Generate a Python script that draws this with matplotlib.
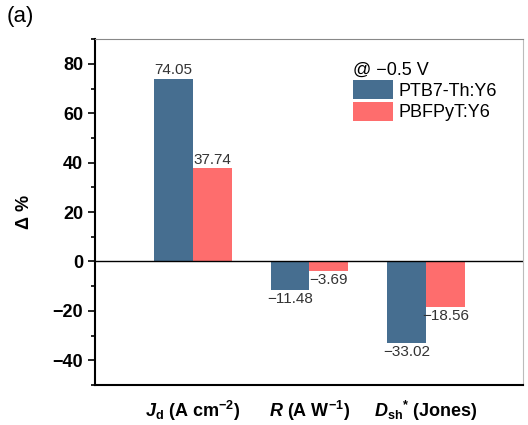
import numpy as np
import matplotlib.pyplot as plt
from matplotlib.ticker import MultipleLocator

# data
categories = [r"$\mathbfit{J}_\mathbf{d}$ (A cm$^{\mathbf{-2}}$)",
              r"$\mathbfit{R}$ (A W$^{\mathbf{-1}}$)",
              r"$\mathbfit{D}_\mathbf{sh}$$^{\mathbf{*}}$ (Jones)"]
ptb7 = [74.05, -11.48, -33.02]
pbfpyt = [37.74, -3.69, -18.56]
series_names = ["PTB7-Th:Y6", "PBFPyT:Y6"]

plt.rcParams['font.family'] = ['Liberation Sans', 'DejaVu Sans']
plt.rcParams['mathtext.fontset'] = 'custom'
plt.rcParams['mathtext.rm'] = 'Liberation Sans'
plt.rcParams['mathtext.it'] = 'Liberation Sans:italic'
plt.rcParams['mathtext.bf'] = 'Liberation Sans:bold'
plt.rcParams['mathtext.bfit'] = 'Liberation Sans:bold:italic'

blue = '#466e90'
red = '#fe6d6d'

fig = plt.figure(figsize=(5.28, 4.25), dpi=100)
ax = fig.add_axes([0.18, 0.094, 0.8105, 0.814])

x = np.arange(1, len(categories) + 1)
w = 0.333

b1 = ax.bar(x - w / 2, ptb7, w, color=blue, label=series_names[0])
b2 = ax.bar(x + w / 2, pbfpyt, w, color=red, label=series_names[1])

for bars, vals in [(b1, ptb7), (b2, pbfpyt)]:
    for rect, v in zip(bars, vals):
        cx = rect.get_x() + rect.get_width() / 2
        if v >= 0:
            ax.annotate(f"{v:.2f}", (cx, v), xytext=(0, 1), textcoords='offset points',
                        ha='center', va='bottom', fontsize=11, color='#333333')
        else:
            ax.annotate(f"\u2212{abs(v):.2f}", (cx, v), xytext=(0, -1.5), textcoords='offset points',
                        ha='center', va='top', fontsize=11, color='#333333')

ax.axhline(0, color='black', lw=1)

ax.set_xlim(0.162, 3.83)
ax.set_ylim(-50, 90)
ax.yaxis.set_major_locator(MultipleLocator(20))
ax.yaxis.set_minor_locator(MultipleLocator(10))
ax.tick_params(axis='y', which='major', direction='out', length=5, width=1.2, labelsize=13)
ax.tick_params(axis='y', which='minor', direction='out', length=3, width=1.2)
ax.tick_params(axis='x', length=0, labelsize=13, pad=10)
ax.set_xticks(x)
ax.set_xticklabels(categories, fontweight='bold')
ax.set_yticklabels([("\u2212" if t < 0 else "") + str(abs(int(t))) for t in ax.get_yticks()],
                   fontweight='bold')

ax.set_ylabel("\u0394 %", fontsize=13, fontweight='bold', labelpad=14)

ax.spines['left'].set_linewidth(1.5)
ax.spines['bottom'].set_linewidth(1.5)
ax.spines['top'].set_color('#888888')
ax.spines['right'].set_color('#bbbbbb')

leg = ax.legend(title="@ \u22120.5 V", loc='upper left', bbox_to_anchor=(0.573, 0.972),
                frameon=False, fontsize=13, title_fontsize=13, handlelength=2.2,
                handleheight=1.25, labelspacing=0.1, handletextpad=0.3,
                borderpad=0.2, alignment='left')

fig.text(0.012, 0.985, "(a)", fontsize=16, va='top', ha='left')

fig.savefig("out.png", dpi=100)
